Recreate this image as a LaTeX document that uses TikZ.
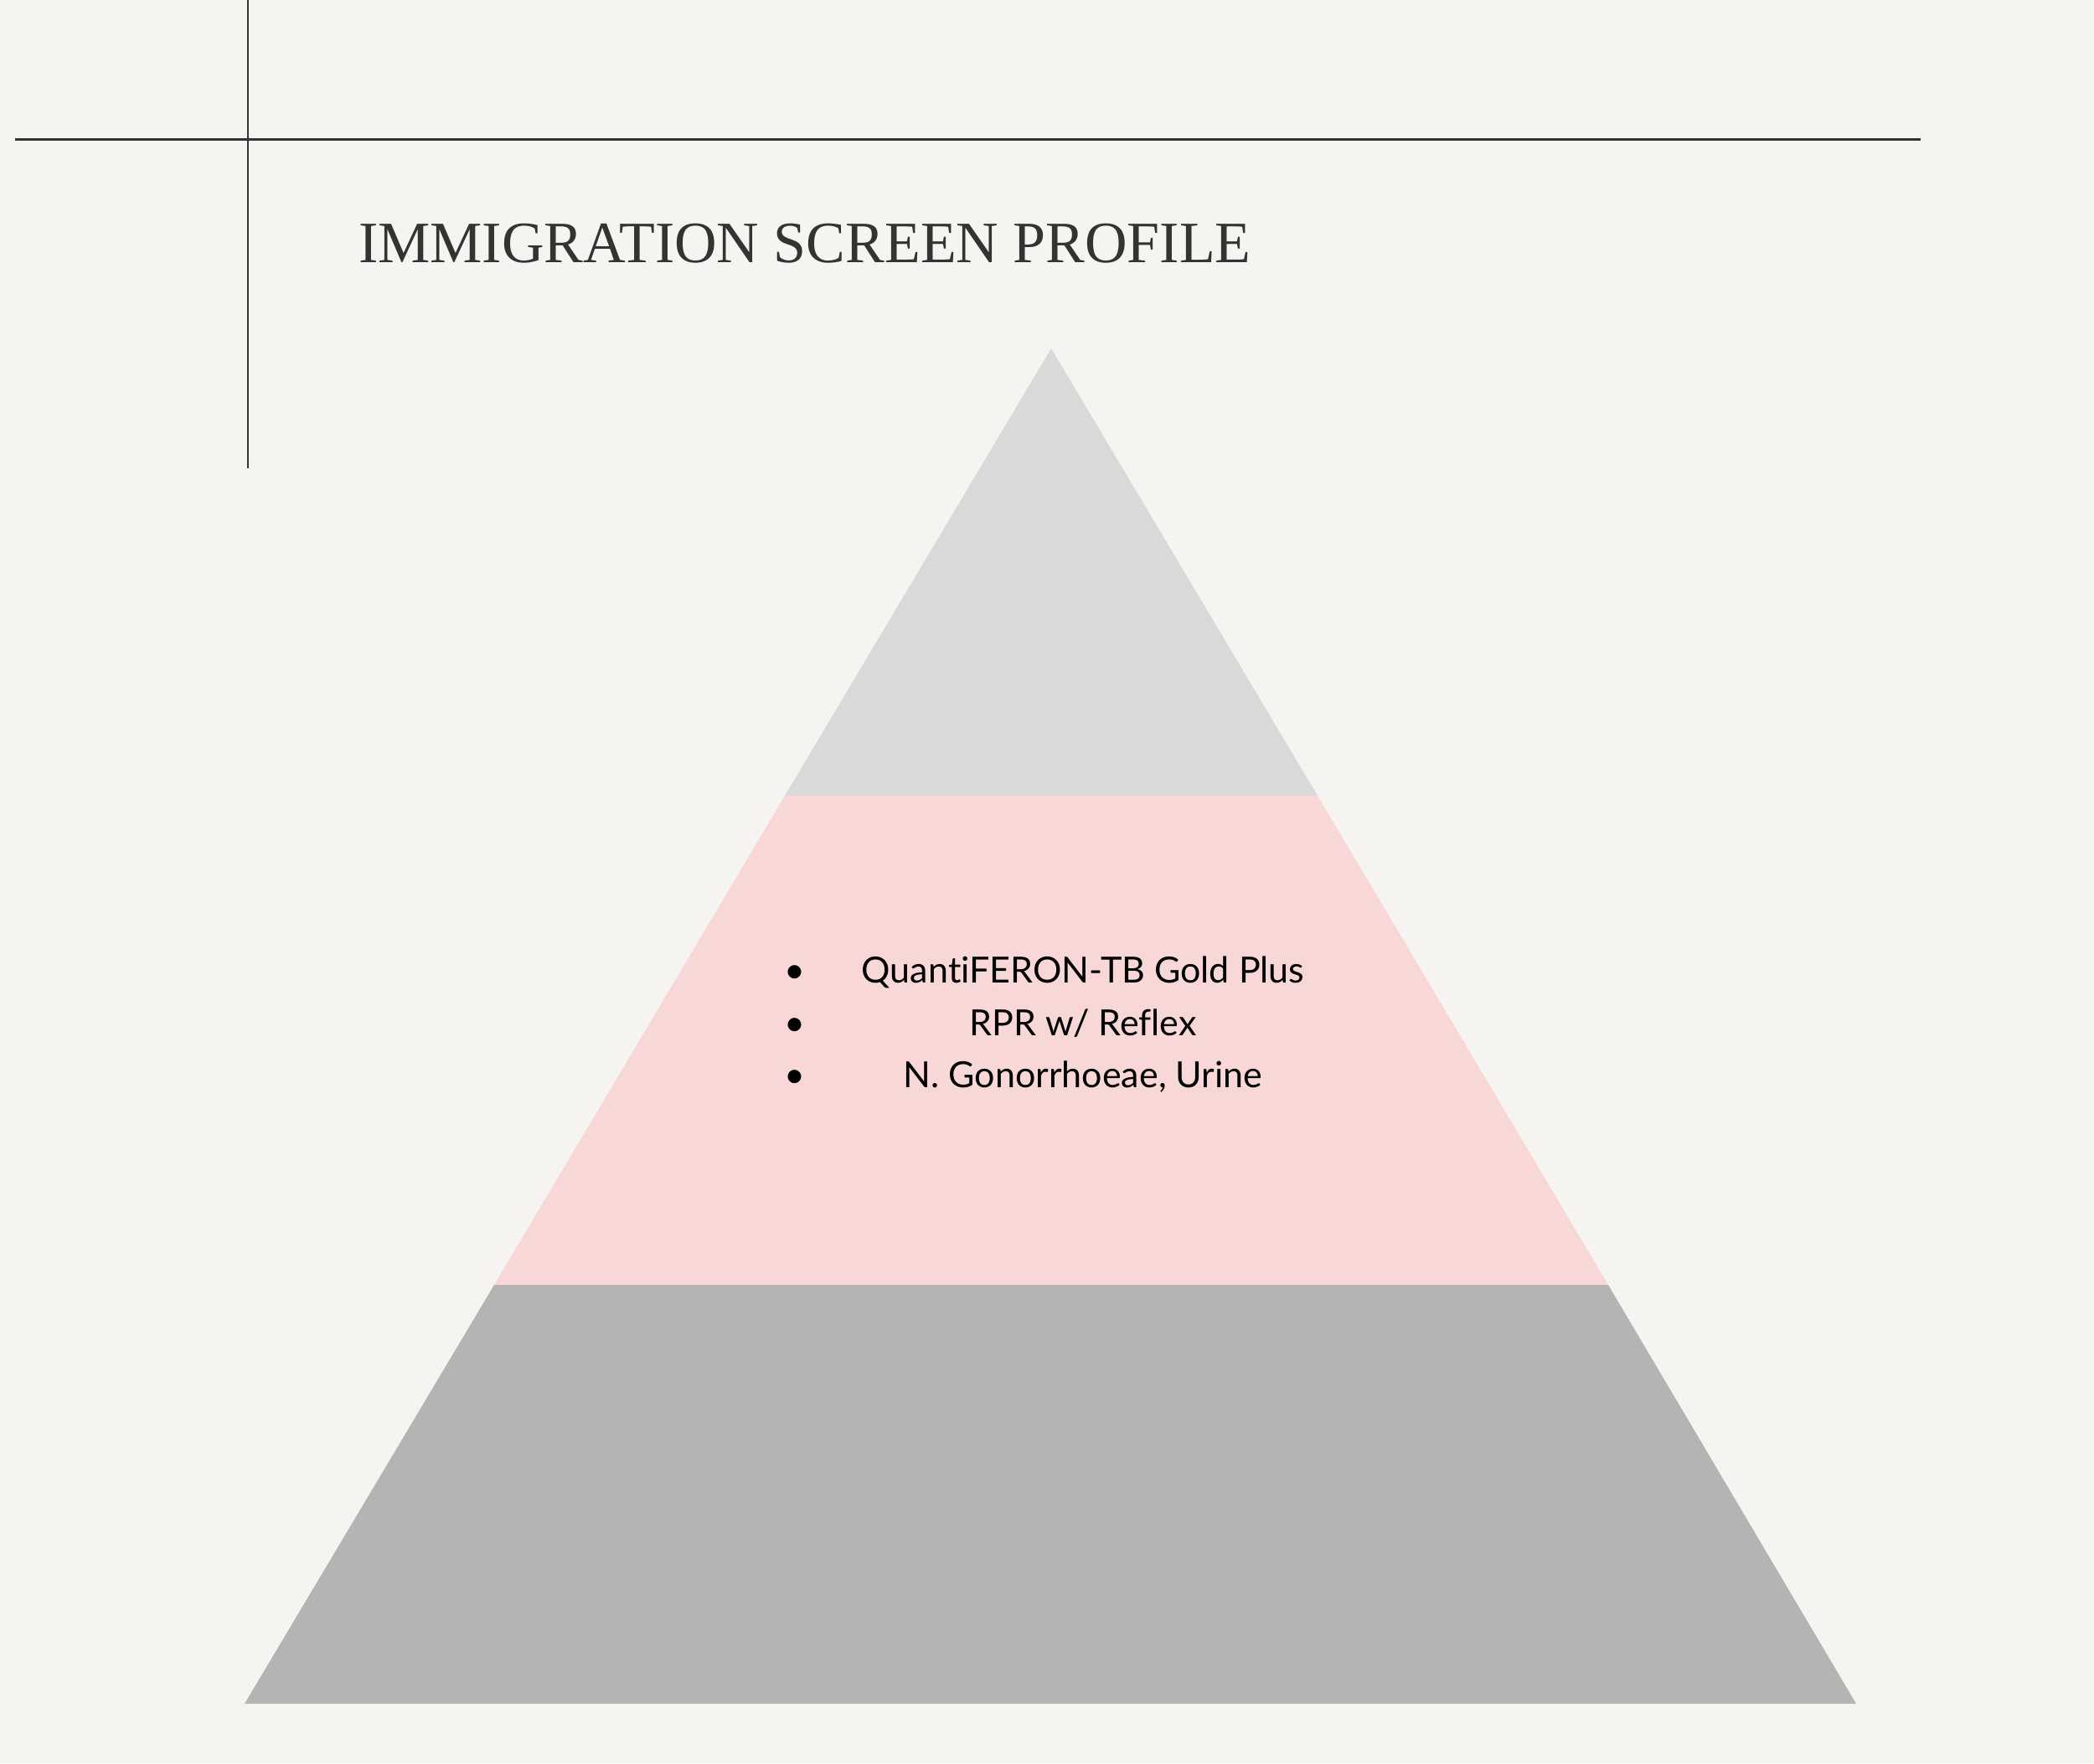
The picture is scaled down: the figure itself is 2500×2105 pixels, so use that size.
\documentclass[tikz,border=0pt]{standalone}
\usepackage{fontspec}
\setmainfont{Liberation Serif}
\newfontfamily\bodysans[Ligatures={NoCommon}]{Lato}
\definecolor{bgc}{HTML}{F5F4F0}
\definecolor{topc}{HTML}{D9D9D9}
\definecolor{midc}{HTML}{F8D8D7}
\definecolor{botc}{HTML}{B4B4B4}
\definecolor{linec}{HTML}{333333}
\begin{document}
\begin{tikzpicture}[x=1pt,y=-1pt,
  rule/.style={draw=linec,line width=3pt},
  item/.style={font=\bodysans\fontsize{43}{50}\selectfont,anchor=base,inner sep=0pt,text=black},
  bul/.style={font=\bodysans\fontsize{43}{50}\selectfont,anchor=base,inner sep=0pt,text=black}]
\fill[bgc] (0,0) rectangle (2500,2105);
\useasboundingbox (0,0) rectangle (2500,2105);
% pyramid bands
\coordinate (apex) at (1255,416);
\coordinate (l1) at (937,950);
\coordinate (r1) at (1573,950);
\coordinate (l2) at (590,1534);
\coordinate (r2) at (1920,1534);
\coordinate (bl) at (292,2034);
\coordinate (br) at (2216,2034);
\fill[topc] (apex) -- (r1) -- (l1) -- cycle;
\fill[midc] (l1) -- (r1) -- (r2) -- (l2) -- cycle;
\fill[botc] (l2) -- (r2) -- (br) -- (bl) -- cycle;
% rules
\coordinate (vt) at (296,0);
\coordinate (vb) at (296,559);
\coordinate (hl) at (18,166);
\coordinate (hr) at (2293,166);
\draw[rule,line width=2.5pt] (vt) -- (vb);
\draw[rule] (hl) -- (hr);
% title
\node[anchor=base west,inner sep=0pt,text=linec,font=\fontsize{70}{80}\selectfont] (title) at (428,313) {IMMIGRATION SCREEN PROFILE};
% items
\node[item] (i1) at (1293,1173) {QuantiFERON-TB Gold Plus};
\node[item] (i2) at (1293,1236) {RPR w/ Reflex};
\node[item] (i3) at (1293,1298) {N. Gonorrhoeae, Urine};
\node[bul] (b1) at (949,1173) {•};
\node[bul] (b2) at (949,1236) {•};
\node[bul] (b3) at (949,1298) {•};
\end{tikzpicture}
\end{document}
